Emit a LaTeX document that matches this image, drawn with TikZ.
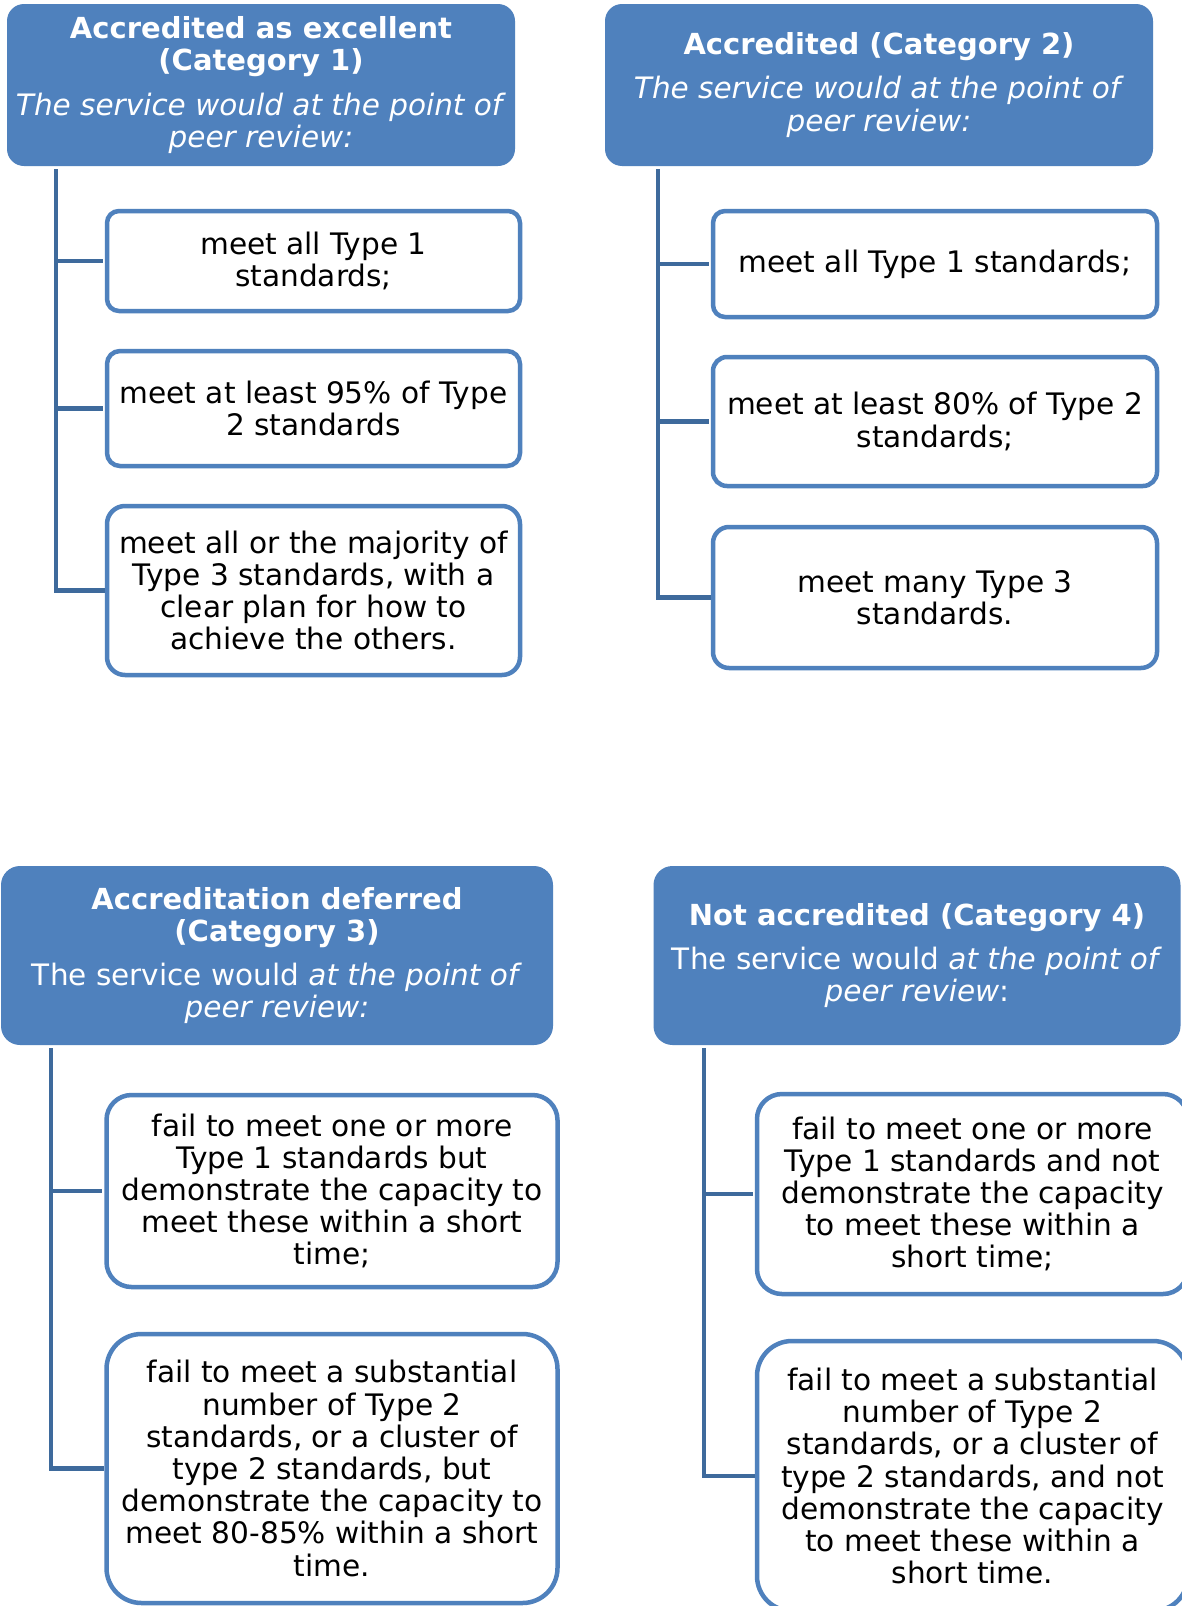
\documentclass[tikz,border=0pt]{standalone}
\usepackage{fontspec}
\setmainfont{DejaVu Sans}
\definecolor{hdrblue}{HTML}{4F81BD}
\definecolor{trkblue}{HTML}{3E6A9C}
\newcommand{\hb}[1]{{\fontsize{29}{32.2}\selectfont\bfseries #1}}
\begin{document}
\begin{tikzpicture}[x=1pt,y=-1pt,
  hdr/.style={fill=hdrblue, draw=none, text=white, align=center, inner sep=0pt,
    font=\fontsize{29.5}{32.2}\selectfont},
  item/.style={draw=hdrblue, line width=4.5pt, fill=white, text=black, align=center,
    inner sep=0pt, font=\fontsize{29.6}{32.2}\selectfont},
  trunk/.style={draw=trkblue, line width=4.8pt},
  conn/.style={draw=trkblue, line width=4.8pt, shorten >=2pt}]
\clip (0,0) rectangle (1182,1606);
\fill[white] (0,0) rectangle (1182,1606);

% ---------- Category 1 ----------
\node[hdr, rounded corners=17pt, minimum width=508pt, minimum height=162pt] (h1) at (261,85)
  {\hb{Accredited as excellent}\\\hb{(Category 1)}\\[12pt]\textit{The service would at the point of}\\\textit{peer review:}};
\node[item, rounded corners=12pt, minimum width=413pt, minimum height=100pt] (b1a) at (313.5,261)
  {meet all Type 1\\standards;};
\node[item, rounded corners=13pt, minimum width=413pt, minimum height=115pt] (b1b) at (313.5,408.5)
  {meet at least 95\% of Type\\2 standards};
\node[item, rounded corners=18pt, minimum width=413pt, minimum height=169pt] (b1c) at (313.5,590.5)
  {meet all or the majority of\\Type 3 standards, with a\\clear plan for how to\\achieve the others.};
\coordinate (r1) at (56,169);
\draw[trunk] (r1) |- (b1c.west);
\draw[conn] (r1 |- b1a.west) -- (b1a.west);
\draw[conn] (r1 |- b1b.west) -- (b1b.west);

% ---------- Category 2 ----------
\node[hdr, rounded corners=17pt, minimum width=548pt, minimum height=162pt] (h2) at (879,85)
  {\hb{Accredited (Category 2)}\\[12pt]\textit{The service would at the point of}\\\textit{peer review:}};
\node[item, rounded corners=12pt, minimum width=444pt, minimum height=106pt] (b2a) at (935,264)
  {meet all Type 1 standards;};
\node[item, rounded corners=14pt, minimum width=444pt, minimum height=129pt] (b2b) at (935,421.5)
  {meet at least 80\% of Type 2\\standards;};
\node[item, rounded corners=16pt, minimum width=444pt, minimum height=141pt] (b2c) at (935,597.5)
  {meet many Type 3\\standards.};
\coordinate (r2) at (658,169);
\draw[trunk] (r2) |- (b2c.west);
\draw[conn] (r2 |- b2a.west) -- (b2a.west);
\draw[conn] (r2 |- b2b.west) -- (b2b.west);

% ---------- Category 3 ----------
\node[hdr, rounded corners=19pt, minimum width=552pt, minimum height=179pt] (h3) at (277,955.5)
  {\hb{Accreditation deferred}\\\hb{(Category 3)}\\[12pt]The service would \textit{at the point of}\\\textit{peer review:}};
\node[item, rounded corners=25pt, minimum width=451pt, minimum height=192pt] (b3a) at (332,1191)
  {fail to meet one or more\\Type 1 standards but\\demonstrate the capacity to\\meet these within a short\\time;};
\node[item, rounded corners=35pt, minimum width=451pt, minimum height=269pt] (b3b) at (332,1468.5)
  {fail to meet a substantial\\number of Type 2\\standards, or a cluster of\\type 2 standards, but\\demonstrate the capacity to\\meet 80-85\% within a short\\time.};
\coordinate (r3) at (51,1048);
\draw[trunk] (r3) |- (b3b.west);
\draw[conn] (r3 |- b3a.west) -- (b3a.west);

% ---------- Category 4 ----------
\node[hdr, rounded corners=19pt, minimum width=527pt, minimum height=179pt] (h4) at (917,955.5)
  {\hb{Not accredited (Category 4)}\\[12pt]The service would \textit{at the point of}\\\textit{peer review}:};
\node[item, rounded corners=25pt, minimum width=431pt, minimum height=200pt] (b4a) at (972.5,1194)
  {fail to meet one or more\\Type 1 standards and not\\demonstrate the capacity\\to meet these within a\\short time;};
\node[item, rounded corners=35pt, minimum width=431pt, minimum height=270pt] (b4b) at (972.5,1476)
  {fail to meet a substantial\\number of Type 2\\standards, or a cluster of\\type 2 standards, and not\\demonstrate the capacity\\to meet these within a\\short time.};
\coordinate (r4) at (704,1048);
\draw[trunk] (r4) |- (b4b.west);
\draw[conn] (r4 |- b4a.west) -- (b4a.west);
\end{tikzpicture}
\end{document}
